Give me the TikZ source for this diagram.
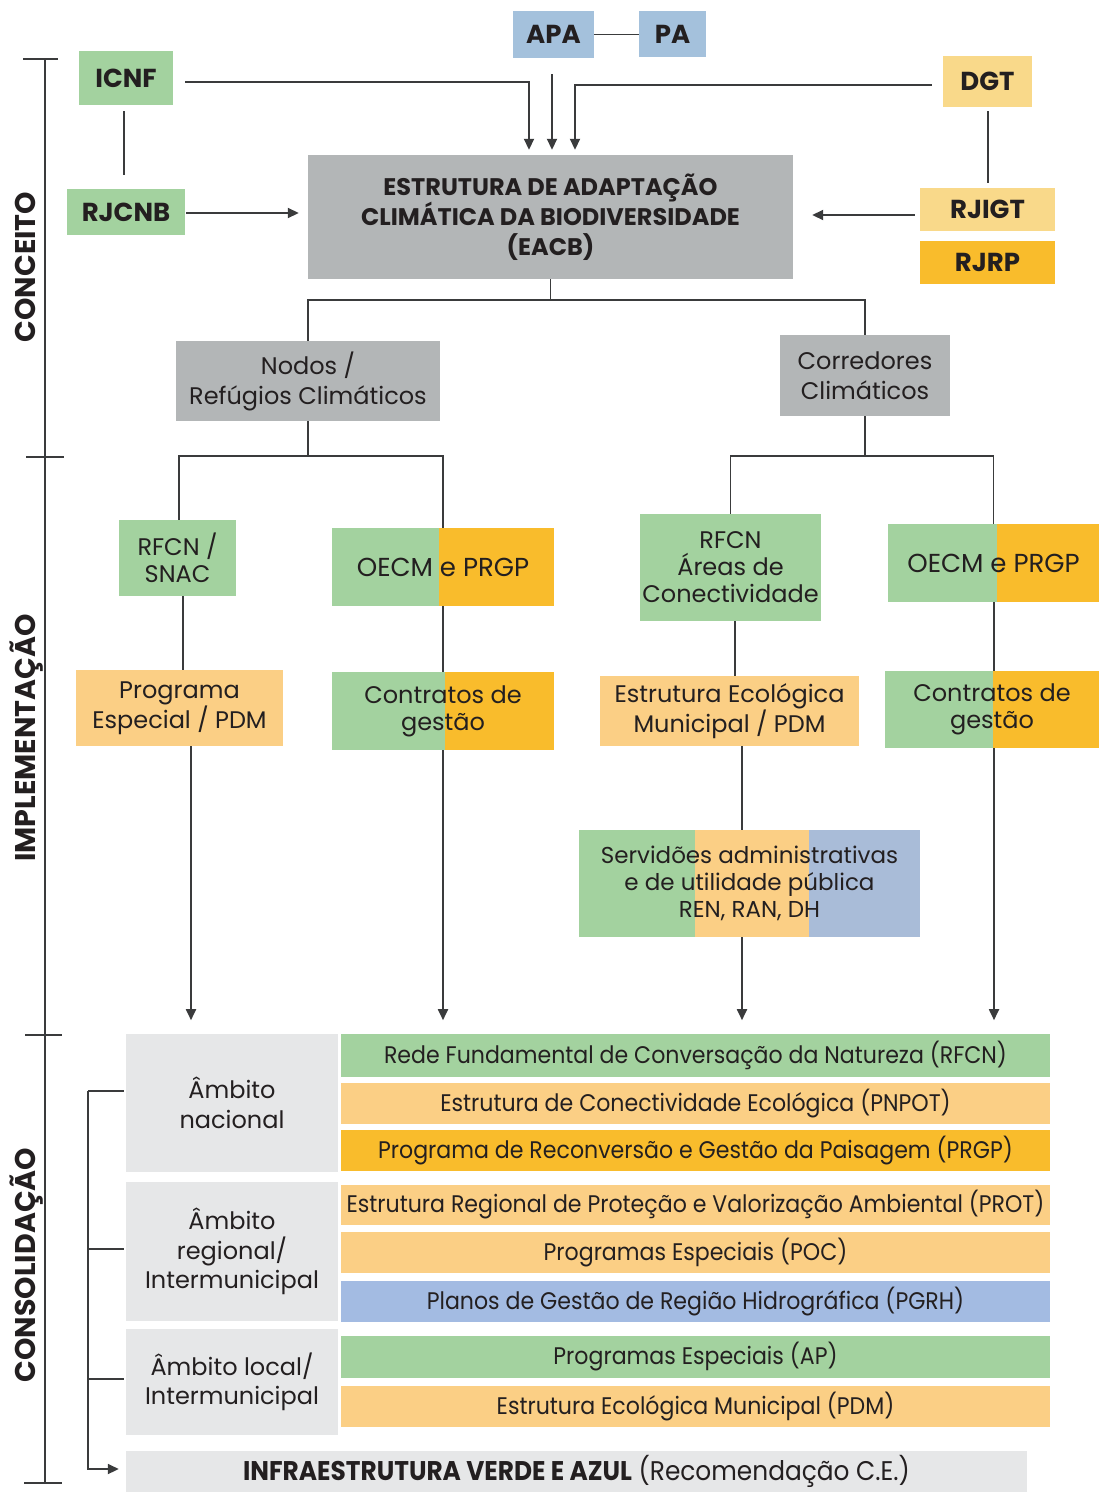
\documentclass[tikz,border=0pt]{standalone}
\usepackage{fontspec}
\setmainfont{Poppins}
\newfontfamily\condf[FakeStretch=0.92]{Poppins}
\usetikzlibrary{arrows.meta,calc,backgrounds}
\definecolor{cgreen}{HTML}{A3D29F}
\definecolor{clorange}{HTML}{FBCF85}
\definecolor{cyellow}{HTML}{F9D98A}
\definecolor{corange}{HTML}{F9BC2C}
\definecolor{cblue}{HTML}{A4C1DC}
\definecolor{cblueB}{HTML}{A9BCD8}
\definecolor{cblueC}{HTML}{A3BBE2}
\definecolor{cgray}{HTML}{B3B6B7}
\definecolor{clgray}{HTML}{E6E7E8}
\definecolor{ctxt}{HTML}{231F20}
\definecolor{cline}{HTML}{3A3B3C}
\newcommand\fbig{\fontsize{26}{30}\selectfont\bfseries}
\newcommand\fside{\fontsize{28.5}{30}\selectfont\bfseries}
\newcommand\fhead{\fontsize{24}{30}\selectfont\bfseries}
\newcommand\fmed{\fontsize{24}{27}\selectfont}
\newcommand\fmeds{\fontsize{23}{27}\selectfont}
\newcommand\foecm{\fontsize{26}{27}\selectfont}
\newcommand\fnod{\fontsize{24}{30}\selectfont}
\newcommand\famb{\fontsize{24}{29.5}\selectfont}
\newcommand\frow{\condf\fontsize{24}{26}\selectfont}
\newcommand\finfra{\condf\fontsize{27}{28}\selectfont}
\begin{document}
\begin{tikzpicture}[x=1pt,y=-1pt,
  box/.style={inner sep=0pt, align=center, text=ctxt},
  ln/.style={draw=cline, line width=1.8pt},
  arr/.style={ln, -{Triangle[length=11pt,width=10pt]}},
  tick/.style={draw=cline, line width=2pt}]
\useasboundingbox (0,0) rectangle (1100,1492);

% ---------- CONCEITO ----------
\node[box, fill=cblue, minimum width=81, minimum height=47, font=\fbig] (APA) at (553.5,34.5) {APA};
\node[box, fill=cblue, minimum width=67, minimum height=46, font=\fbig] (PA) at (672.5,34) {PA};
\node[box, fill=cgreen, minimum width=94, minimum height=54, font=\fbig] (ICNF) at (126,78) {ICNF};
\node[box, fill=cgreen, minimum width=118, minimum height=46, font=\fbig] (RJCNB) at (126,212) {RJCNB};
\node[box, fill=cyellow, minimum width=89, minimum height=51, font=\fbig] (DGT) at (987.5,81.5) {DGT};
\node[box, fill=cyellow, minimum width=135, minimum height=43, font=\fbig] (RJIGT) at (987.5,209.5) {RJIGT};
\node[box, fill=corange, minimum width=135, minimum height=43, font=\fbig] (RJRP) at (987.5,262.5) {RJRP};
\node[box, fill=cgray, minimum width=485, minimum height=124, font=\fhead] (EACB) at (550.5,217)
  {ESTRUTURA DE ADAPTAÇÃO\\CLIMÁTICA DA BIODIVERSIDADE\\(EACB)};

\draw[ln] (APA.east) -- (APA.east -| PA.west);
\draw[arr] ($(ICNF.east)+(12,4)$) -| ($(EACB.north)+(-21.5,-5)$);
\draw[arr] ($(APA.south)+(-1.5,16)$) -- ($(APA.south |- EACB.north)+(-1.5,-5)$);
\draw[arr] ($(DGT.west)+(-11,3.5)$) -| ($(EACB.north)+(24.5,-5)$);
\draw[arr] ($(RJCNB.east)+(1,1)$) -- ($(EACB.west)+(-9,-4)$);
\draw[arr] ($(RJIGT.west)+(-5,5.5)$) -- ($(EACB.east)+(19,-2)$);
\draw[ln] ($(ICNF.south)+(-2,6)$) -- ($(RJCNB.north)+(-2,-14)$);
\draw[ln] ($(DGT.south)+(0.5,4)$) -- ($(RJIGT.north)+(0.5,-5)$);

\node[box, fill=cgray, minimum width=264, minimum height=80, font=\fnod] (Nodos) at (308,381) {Nodos /\\Refúgios Climáticos};
\node[box, fill=cgray, minimum width=170, minimum height=81, font=\fnod] (Corr) at (865,375.5) {Corredores\\Climáticos};
\draw[ln] (Nodos.north) |- ($(EACB.south)+(0,21)$) -| (Corr.north);
\draw[ln] (EACB.south) -- ++(0,21);

% ---------- IMPLEMENTACAO ----------
\node[box, fill=cgreen, minimum width=117, minimum height=76, font=\fmed] (snac) at (177.5,558) {RFCN /\\SNAC};
\node[box, minimum width=221, minimum height=78, font=\foecm] (oecmL) at (443,567) {OECM e PRGP};
\node[box, fill=cgreen, minimum width=181, minimum height=107, font=\fmed] (areas) at (730.5,567.5) {RFCN\\Áreas de\\Conectividade};
\node[box, minimum width=211, minimum height=78, font=\foecm] (oecmR) at (993.5,563) {OECM e PRGP};
\node[box, fill=clorange, minimum width=207, minimum height=76, font=\fmed] (prog) at (179.5,708) {Programa\\Especial / PDM};
\node[box, minimum width=222, minimum height=78, font=\fmed] (contL) at (443,711) {Contratos de\\gestão};
\node[box, fill=clorange, minimum width=259, minimum height=70, font=\fmed] (eem) at (729.5,711) {Estrutura Ecológica\\Municipal / PDM};
\node[box, minimum width=214, minimum height=77, font=\fmed] (contR) at (992,709.5) {Contratos de\\gestão};
\node[box, minimum width=341, minimum height=107, font=\fmeds] (serv) at (749.5,883.5) {Servidões administrativas\\e de utilidade pública\\REN, RAN, DH};

\begin{pgfonlayer}{background}
  \fill[cgreen] (oecmL.north west) rectangle ($(oecmL.south west)+(106.5,0)$);
  \fill[corange] ($(oecmL.north west)+(106.5,0)$) rectangle (oecmL.south east);
  \fill[cgreen] (oecmR.north west) rectangle ($(oecmR.south west)+(109,0)$);
  \fill[corange] ($(oecmR.north west)+(109,0)$) rectangle (oecmR.south east);
  \fill[cgreen] (contL.north west) rectangle ($(contL.south west)+(113,0)$);
  \fill[corange] ($(contL.north west)+(113,0)$) rectangle (contL.south east);
  \fill[cgreen] (contR.north west) rectangle ($(contR.south west)+(108,0)$);
  \fill[corange] ($(contR.north west)+(108,0)$) rectangle (contR.south east);
  \fill[cgreen] (serv.north west) rectangle ($(serv.south west)+(116,0)$);
  \fill[clorange] ($(serv.north west)+(116,0)$) rectangle ($(serv.south west)+(230,0)$);
  \fill[cblueB] ($(serv.north west)+(230,0)$) rectangle (serv.south east);
\end{pgfonlayer}

\draw[ln] (Nodos.south) -- ++(0,35);
\draw[ln] ($(snac.north)+(1.5,0)$) |- ($(Nodos.south)+(0,35)$) -| (oecmL.north);
\draw[ln] (Corr.south) -- ++(0,40);
\draw[ln] (areas.north) |- ($(Corr.south)+(0,40)$) -| (oecmR.north);

\draw[ln] ($(snac.south)+(5.5,0)$) -- ($(snac.south |- prog.north)+(5.5,0)$);
\draw[arr] ($(prog.south)+(11.5,0)$) -- ++(0,274);
\draw[ln] (oecmL.south) -- (contL.north);
\draw[arr] (contL.south) -- ++(0,270);
\draw[ln] ($(areas.south)+(4.5,0)$) -- ($(areas.south |- eem.north)+(4.5,0)$);
\draw[ln] ($(eem.south)+(12.5,0)$) -- ($(eem.south |- serv.north)+(12.5,0)$);
\draw[arr] ($(serv.south)+(-7.5,0)$) -- ++(0,83);
\draw[ln] ($(oecmR.south)+(0.5,0)$) -- ($(oecmR.south |- contR.north)+(0.5,0)$);
\draw[arr] ($(contR.south)+(2,0)$) -- ++(0,272);

% ---------- CONSOLIDACAO ----------
\node[box, fill=clgray, minimum width=212, minimum height=138, font=\famb] (ambN) at (232,1103) {Âmbito\\nacional};
\node[box, fill=clgray, minimum width=212, minimum height=139, font=\famb] (ambR) at (232,1251.5) {Âmbito\\regional/\\Intermunicipal};
\node[box, fill=clgray, minimum width=212, minimum height=106, font=\famb] (ambL) at (232,1382) {Âmbito local/\\Intermunicipal};

\node[box, fill=cgreen, minimum width=709, minimum height=43, font=\frow] (r1) at (695.5,1055.5) {Rede Fundamental de Conversação da Natureza (RFCN)};
\node[box, fill=clorange, minimum width=709, minimum height=41, font=\frow] (r2) at (695.5,1103.5) {Estrutura de Conectividade Ecológica (PNPOT)};
\node[box, fill=corange, minimum width=709, minimum height=41, font=\frow] (r3) at (695.5,1150.5) {Programa de Reconversão e Gestão da Paisagem (PRGP)};
\node[box, fill=clorange, minimum width=709, minimum height=40, font=\frow] (r4) at (695.5,1205) {Estrutura Regional de Proteção e Valorização Ambiental (PROT)};
\node[box, fill=clorange, minimum width=709, minimum height=41, font=\frow] (r5) at (695.5,1252.5) {Programas Especiais (POC)};
\node[box, fill=cblueC, minimum width=709, minimum height=41, font=\frow] (r6) at (695.5,1301.5) {Planos de Gestão de Região Hidrográfica (PGRH)};
\node[box, fill=cgreen, minimum width=709, minimum height=42, font=\frow] (r7) at (695.5,1357) {Programas Especiais (AP)};
\node[box, fill=clorange, minimum width=709, minimum height=41, font=\frow] (r8) at (695.5,1406.5) {Estrutura Ecológica Municipal (PDM)};
\node[box, fill=clgray, minimum width=901, minimum height=41, font=\finfra] (infra) at (576.5,1471.5) {{\bfseries INFRAESTRUTURA VERDE E AZUL} (Recomendação C.E.)};

\draw[ln] ($(ambN.west)+(-2,-12)$) -- ++(-36,0) coordinate (bt);
\draw[arr] (bt) |- ($(infra.west)+(-7,-2.5)$);
\draw[ln] ($(ambR.west)+(-2,-2.5)$) -- ($(ambR.west -| bt)+(0,-2.5)$);
\draw[ln] ($(ambL.west)+(-2,-3)$) -- ($(ambL.west -| bt)+(0,-3)$);

% ---------- timeline ----------
\draw[tick] (45,59) -- (45,1483);
\draw[tick] (23,59) -- (58,59);
\draw[tick] (26,457) -- (64,457);
\draw[tick] (25,1035) -- (62,1035);
\draw[tick] (24,1483) -- (62,1483);
\node[box, rotate=90, font=\fside] (lblC) at (25,267) {CONCEITO};
\node[box, rotate=90, font=\fside] (lblI) at (27,738) {IMPLEMENTAÇÃO};
\node[box, rotate=90, font=\fside] (lblS) at (27,1265) {CONSOLIDAÇÃO};
\end{tikzpicture}
\end{document}
